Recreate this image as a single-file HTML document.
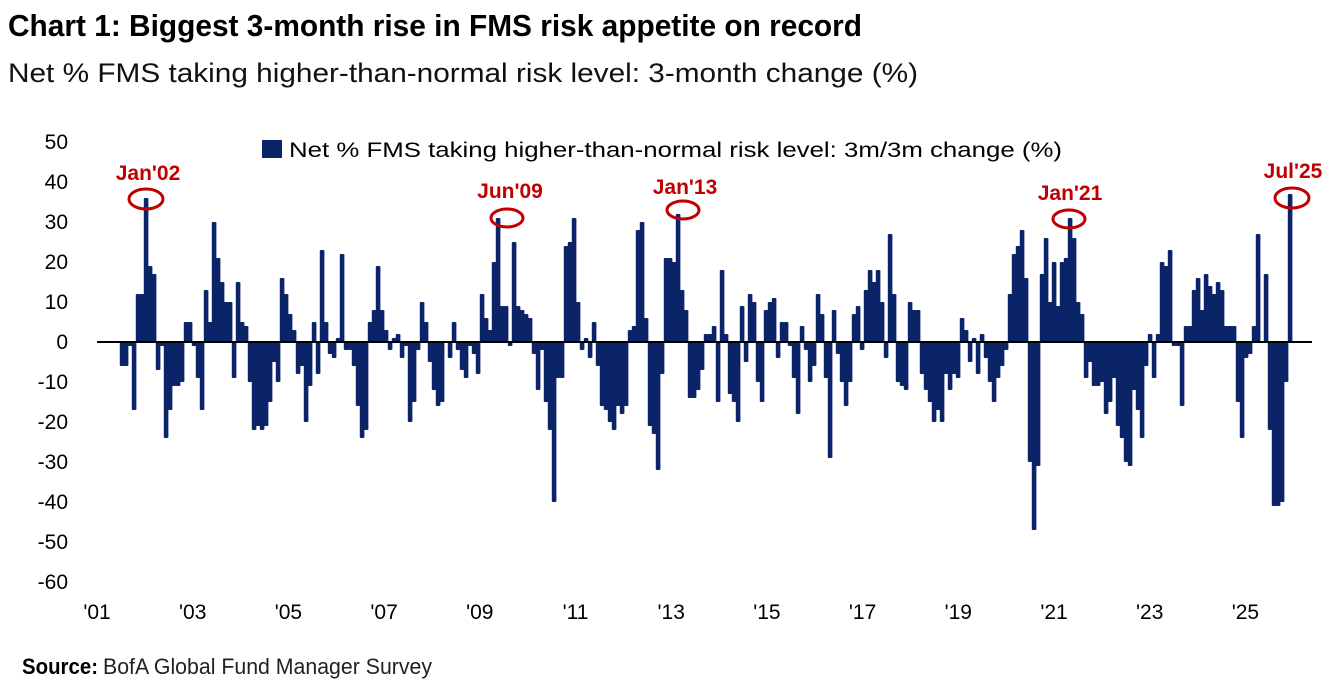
<!DOCTYPE html>
<html><head><meta charset="utf-8"><style>
html,body{margin:0;padding:0;background:#fff;}
svg{display:block;}
text{font-family:"Liberation Sans",Arial,sans-serif;}
</style></head><body>
<svg id="c" width="1333" height="694" xmlns="http://www.w3.org/2000/svg">
<text x="8" y="36" font-size="31" font-weight="bold" textLength="854" lengthAdjust="spacingAndGlyphs">Chart 1: Biggest 3-month rise in FMS risk appetite on record</text>
<text x="8" y="82" font-size="27" textLength="910" lengthAdjust="spacingAndGlyphs" fill="#111">Net % FMS taking higher-than-normal risk level: 3-month change (%)</text>
<g font-size="21" text-anchor="end" fill="#000">
<text x="68" y="149">50</text><text x="68" y="189">40</text><text x="68" y="229">30</text><text x="68" y="269">20</text><text x="68" y="309">10</text><text x="68" y="349">0</text><text x="68" y="389">-10</text><text x="68" y="429">-20</text><text x="68" y="469">-30</text><text x="68" y="509">-40</text><text x="68" y="549">-50</text><text x="68" y="589">-60</text>
</g>
<g id="xl" font-size="21" text-anchor="middle" fill="#000"></g>
<rect x="262" y="140" width="20" height="18" fill="#0b2467"/>
<text x="289" y="157" font-size="21" textLength="773" lengthAdjust="spacingAndGlyphs">Net % FMS taking higher-than-normal risk level: 3m/3m change (%)</text>
<g id="bars" fill="#0b2467"></g>
<line x1="97" y1="342" x2="1312" y2="342" stroke="#000" stroke-width="2"/>
<g font-size="21" font-weight="bold" fill="#c00000" text-anchor="middle">
<text x="148" y="180">Jan'02</text>
<text x="510" y="198">Jun'09</text>
<text x="685" y="194">Jan'13</text>
<text x="1070" y="200">Jan'21</text>
<text x="1293" y="178">Jul'25</text>
</g>
<g fill="none" stroke="#c00000" stroke-width="3">
<ellipse cx="146" cy="199" rx="17" ry="10"/>
<ellipse cx="507" cy="218" rx="16" ry="9"/>
<ellipse cx="683" cy="210" rx="16" ry="9"/>
<ellipse cx="1069" cy="219" rx="16" ry="9"/>
<ellipse cx="1292" cy="198" rx="17" ry="10"/>
</g>
<text x="22" y="674" font-size="22" font-weight="bold" textLength="76" lengthAdjust="spacingAndGlyphs">Source:</text>
<text x="103" y="674" font-size="22" textLength="329" lengthAdjust="spacingAndGlyphs" fill="#222">BofA Global Fund Manager Survey</text>
</svg>
<script>
var d=[122,-6,126,-6,130,-1,134,-17,138,12,142,12,146,36,150,19,154,17,158,-7,162,-1,166,-24,170,-17,174,-11,178,-11,182,-10,186,5,190,5,194,-1,198,-9,202,-17,206,13,210,5,214,30,218,21,222,15,226,10,230,10,234,-9,238,15,242,5,246,4,250,-10,254,-22,258,-21,262,-22,266,-21,270,-15,274,-5,278,-10,282,16,286,12,290,7,294,3,298,-8,302,-6,306,-20,310,-11,314,5,318,-8,322,23,326,5,330,-3,334,-4,338,1,342,22,346,-2,350,-2,354,-6,358,-16,362,-24,366,-22,370,5,374,8,378,19,382,8,386,3,390,-2,394,1,398,2,402,-4,406,-1,410,-20,414,-15,418,-2,422,10,426,5,430,-5,434,-12,438,-16,442,-15,446,0,450,-4,454,5,458,-2,462,-7,466,-9,470,-1,474,-3,478,-8,482,12,486,6,490,3,494,20,498,31,502,9,506,9,510,-1,514,25,518,9,522,8,526,7,530,6,534,-3,538,-12,542,-2,546,-15,550,-22,554,-40,558,-9,562,-9,566,24,570,25,574,31,578,10,582,-2,586,1,590,-4,594,5,598,-6,602,-16,606,-17,610,-20,614,-22,618,-16,622,-18,626,-16,630,3,634,4,638,28,642,30,646,6,650,-21,654,-23,658,-32,662,-8,666,21,670,21,674,20,678,32,682,13,686,8,690,-14,694,-14,698,-12,702,-7,706,2,710,2,714,4,718,-15,722,18,726,2,730,-13,734,-15,738,-20,742,9,746,-5,750,12,754,10,758,-10,762,-15,766,8,770,10,774,11,778,-4,782,5,786,5,790,-1,794,-9,798,-18,802,4,806,-2,810,-10,814,-6,818,12,822,7,826,-9,830,-29,834,8,838,-3,842,-10,846,-16,850,-10,854,7,858,9,862,-2,866,13,870,18,874,15,878,18,882,10,886,-4,890,27,894,12,898,-10,902,-11,906,-12,910,10,914,8,918,8,922,-8,926,-12,930,-15,934,-20,938,-17,942,-20,946,-8,950,-12,954,-8,958,-9,962,6,966,3,970,-5,974,1,978,-8,982,2,986,-4,990,-10,994,-15,998,-9,1002,-6,1006,-2,1010,12,1014,22,1018,24,1022,28,1026,16,1030,-30,1034,-47,1038,-31,1042,17,1046,26,1050,10,1054,20,1058,9,1062,20,1066,21,1070,31,1074,26,1078,10,1082,7,1086,-9,1090,-5,1094,-11,1098,-11,1102,-10,1106,-18,1110,-15,1114,-9,1118,-21,1122,-24,1126,-30,1130,-31,1134,-12,1138,-17,1142,-24,1146,-6,1150,2,1154,-9,1158,2,1162,20,1166,19,1170,23,1174,-1,1178,-1,1182,-16,1186,4,1190,4,1194,13,1198,16,1202,8,1206,17,1210,14,1214,12,1218,15,1222,13,1226,4,1230,4,1234,4,1238,-15,1242,-24,1246,-4,1250,-3,1254,4,1258,27,1262,0,1266,17,1270,-22,1274,-41,1278,-41,1282,-40,1286,-10,1290,37];
var ns="http://www.w3.org/2000/svg",g=document.getElementById("bars");
for(var i=0;i<d.length;i+=2){var x=d[i],v=d[i+1];if(v==0)continue;var r=document.createElementNS(ns,"rect");
var y=342-v*4;r.setAttribute("x",x-2.2);r.setAttribute("width",4.6);r.setAttribute("y",Math.min(y,342));r.setAttribute("height",Math.abs(v*4));r.setAttribute("rx",1);g.appendChild(r);}
var xl=document.getElementById("xl");
for(var k=0;k<13;k++){var t=document.createElementNS(ns,"text");t.setAttribute("x",97+k*95.7);t.setAttribute("y",619);var yr=1+2*k;t.textContent="'"+(yr<10?"0":"")+yr;xl.appendChild(t);}
</script>
</body></html>
